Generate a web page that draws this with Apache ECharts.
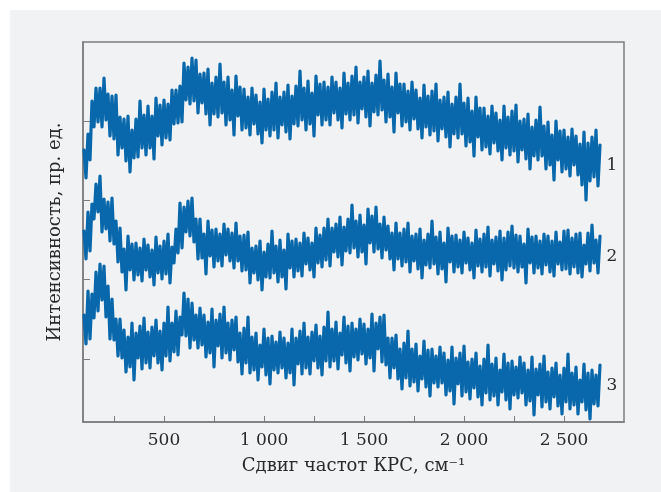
<!DOCTYPE html>
<html>
<head>
<meta charset="utf-8">
<script src="https://cdn.jsdelivr.net/npm/echarts/dist/echarts.min.js"></script>
<style>
  body { margin: 0; background: #ffffff; }
  #panel { position: absolute; left: 10px; top: 10px; width: 651px; height: 482px; background: #f1f2f4; }
  #chart { position: absolute; left: 0; top: 0; width: 661px; height: 492px; }
</style>
</head>
<body>
<div id="panel"></div>
<div id="chart"></div>
<script>
// Raman shift grid, cm^-1 (one reading every 10 cm^-1)
const shiftStart = 100
const shiftStep = 10

// intensity readings, arb. units
const spectrum1 = [
  350, 322, 366, 340, 399, 373, 412, 378, 412, 373,
  422, 380, 406, 364, 404, 361, 405, 345, 383, 352,
  381, 339, 384, 328, 370, 342, 381, 343, 399, 352,
  385, 345, 394, 352, 384, 341, 402, 364, 395, 355,
  400, 362, 396, 360, 410, 376, 410, 377, 414, 378,
  437, 400, 433, 396, 442, 399, 440, 387, 426, 397,
  427, 386, 431, 375, 417, 386, 423, 383, 436, 387,
  418, 375, 423, 380, 410, 365, 424, 384, 413, 370,
  411, 372, 403, 365, 412, 376, 405, 366, 398, 357,
  411, 370, 401, 364, 408, 370, 417, 362, 403, 375,
  408, 368, 415, 361, 404, 376, 414, 374, 429, 380,
  412, 370, 419, 376, 407, 364, 424, 385, 416, 375,
  418, 380, 413, 375, 423, 387, 418, 380, 412, 372,
  427, 386, 417, 380, 424, 385, 433, 377, 418, 391,
  423, 383, 429, 374, 417, 388, 425, 385, 439, 390,
  420, 378, 426, 383, 413, 368, 427, 387, 416, 374,
  416, 378, 409, 370, 418, 381, 410, 371, 402, 362,
  415, 373, 404, 365, 409, 369, 416, 359, 400, 371,
  403, 363, 408, 353, 396, 366, 403, 362, 416, 366,
  397, 354, 402, 358, 389, 344, 403, 363, 392, 350,
  392, 353, 384, 346, 394, 357, 387, 349, 380, 340,
  394, 352, 383, 345, 389, 349, 395, 338, 379, 350,
  381, 341, 386, 331, 373, 344, 380, 340, 393, 344,
  374, 331, 378, 335, 365, 320, 379, 340, 369, 328,
  370, 331, 363, 324, 371, 335, 364, 325, 356, 315,
  368, 300, 357, 319, 363, 323, 370, 314, 355
]
const spectrum2 = [
  269, 241, 288, 249, 296, 281, 316, 288, 324, 268,
  301, 271, 298, 259, 302, 256, 279, 238, 272, 228,
  251, 210, 264, 230, 256, 220, 257, 225, 252, 219,
  261, 230, 255, 223, 250, 215, 263, 227, 254, 221,
  259, 226, 266, 217, 253, 237, 271, 247, 297, 252,
  293, 268, 299, 264, 302, 258, 281, 241, 281, 242,
  266, 226, 279, 244, 270, 233, 271, 239, 266, 234,
  276, 245, 271, 239, 267, 232, 277, 239, 264, 229,
  265, 230, 268, 217, 252, 227, 254, 220, 259, 210,
  248, 223, 256, 222, 269, 227, 254, 218, 260, 223,
  250, 211, 266, 232, 259, 223, 261, 229, 257, 224,
  267, 236, 262, 230, 257, 223, 272, 237, 265, 233,
  272, 240, 281, 234, 272, 248, 276, 243, 283, 235,
  273, 249, 281, 247, 295, 252, 279, 243, 285, 248,
  275, 236, 291, 257, 284, 248, 293, 251, 276, 242,
  283, 250, 274, 241, 267, 230, 277, 241, 267, 234,
  271, 238, 277, 228, 264, 239, 266, 231, 271, 222,
  260, 235, 266, 232, 279, 236, 263, 226, 268, 231,
  257, 218, 272, 238, 264, 228, 265, 233, 260, 227,
  268, 237, 262, 230, 257, 222, 270, 234, 261, 228,
  266, 233, 273, 224, 260, 236, 263, 229, 269, 220,
  262, 230, 268, 234, 274, 232, 265, 228, 264, 233,
  256, 217, 271, 237, 263, 227, 264, 232, 259, 226,
  266, 235, 264, 228, 259, 224, 268, 236, 258, 230,
  269, 231, 270, 226, 262, 233, 266, 227, 267, 223,
  255, 236, 267, 229, 275, 237, 260, 227, 264
]
const spectrum3 = [
  185, 156, 209, 161, 206, 182, 228, 189, 236, 200,
  234, 183, 214, 161, 201, 160, 181, 144, 181, 142,
  170, 128, 163, 133, 177, 120, 167, 142, 174, 131,
  182, 137, 168, 132, 173, 144, 180, 137, 169, 130,
  177, 144, 193, 139, 177, 148, 189, 145, 183, 165,
  207, 164, 201, 152, 197, 160, 185, 152, 192, 155,
  185, 143, 178, 147, 191, 133, 180, 154, 186, 142,
  193, 147, 177, 140, 180, 150, 183, 138, 167, 126,
  172, 137, 183, 127, 163, 130, 167, 120, 155, 133,
  171, 125, 162, 116, 164, 130, 158, 127, 168, 132,
  162, 122, 157, 127, 171, 115, 162, 136, 169, 126,
  177, 132, 163, 126, 168, 139, 175, 132, 164, 125,
  173, 139, 188, 133, 171, 139, 178, 131, 167, 145,
  183, 137, 174, 129, 177, 143, 171, 140, 181, 146,
  176, 136, 171, 142, 186, 129, 177, 151, 183, 138,
  185, 135, 162, 122, 162, 132, 165, 121, 151, 111,
  157, 122, 169, 114, 151, 118, 156, 109, 144, 121,
  159, 113, 150, 104, 151, 117, 144, 113, 153, 117,
  147, 105, 140, 109, 153, 96, 142, 116, 147, 104,
  154, 108, 138, 101, 141, 112, 147, 103, 134, 95,
  141, 107, 155, 100, 136, 104, 142, 95, 130, 108,
  146, 100, 137, 91, 139, 105, 133, 102, 143, 107,
  137, 95, 130, 99, 143, 85, 131, 105, 136, 93,
  144, 98, 128, 91, 132, 103, 137, 94, 125, 86,
  132, 98, 146, 91, 127, 95, 133, 86, 120, 98,
  136, 90, 127, 81, 130, 96, 125, 94, 135
]

// curve numbers at the right end: [shift, intensity, text]
const curveLabels = [
  [2740, 334, '1'],
  [2740, 243, '2'],
  [2740, 114, '3']
]

const xTicks = [250, 500, 750, 1000, 1250, 1500, 1750, 2000, 2250, 2500]
const xLabels = [500, 1000, 1500, 2000, 2500]
const yTicks = [141, 221, 300, 379]

const font = 'DejaVu Serif'
const textColor = '#2a2a2a'
const frameColor = '#7d7d7d'
const lineColor = '#0868ab'

function toPairs (vals) {
  return vals.map((v, i) => [shiftStart + i * shiftStep, v])
}

function makeSeries (vals, k) {
  let lbl = curveLabels[k]
  return {
    type: 'line',
    data: toPairs(vals),
    symbol: 'none',
    silent: true,
    lineStyle: { color: lineColor, width: 3.2, join: 'round', cap: 'round' },
    markPoint: {
      symbol: 'circle',
      symbolSize: 1,
      itemStyle: { color: 'rgba(0,0,0,0)' },
      label: {
        show: true,
        position: 'inside',
        formatter: lbl[2],
        color: textColor,
        fontFamily: font,
        fontSize: 17
      },
      data: [{ coord: [lbl[0], lbl[1]] }]
    }
  }
}

let chart = echarts.init(document.getElementById('chart'))
let option = {
  animation: false,
  backgroundColor: 'transparent',
  grid: {
    left: 83,
    right: 37,
    top: 42,
    bottom: 70,
    show: true,
    borderColor: frameColor,
    borderWidth: 1.5,
    backgroundColor: 'transparent'
  },
  xAxis: {
    type: 'value',
    min: 95,
    max: 2800,
    name: 'Сдвиг частот КРС, см⁻¹',
    nameLocation: 'middle',
    nameGap: 35,
    nameTextStyle: { color: textColor, fontFamily: font, fontSize: 18 },
    axisLine: { lineStyle: { color: frameColor, width: 1.5 } },
    axisTick: {
      inside: true,
      length: 6,
      customValues: xTicks,
      lineStyle: { color: frameColor, width: 1 }
    },
    axisLabel: {
      customValues: xLabels,
      margin: 10,
      color: textColor,
      fontFamily: font,
      fontSize: 17,
      formatter: v => v >= 1000 ? Math.floor(v / 1000) + ' ' + String(v % 1000).padStart(3, '0') : String(v)
    },
    splitLine: { show: false }
  },
  yAxis: {
    type: 'value',
    min: 78,
    max: 458,
    name: 'Интенсивность, пр. ед.',
    nameLocation: 'middle',
    nameGap: 19,
    nameTextStyle: { color: textColor, fontFamily: font, fontSize: 18 },
    axisLine: { show: true, lineStyle: { color: frameColor, width: 1.5 } },
    axisTick: {
      inside: true,
      length: 7,
      customValues: yTicks,
      lineStyle: { color: frameColor, width: 1 }
    },
    axisLabel: { show: false },
    splitLine: { show: false }
  },
  series: [
    makeSeries(spectrum1, 0),
    makeSeries(spectrum2, 1),
    makeSeries(spectrum3, 2)
  ]
}
chart.setOption(option)
</script>
</body>
</html>
